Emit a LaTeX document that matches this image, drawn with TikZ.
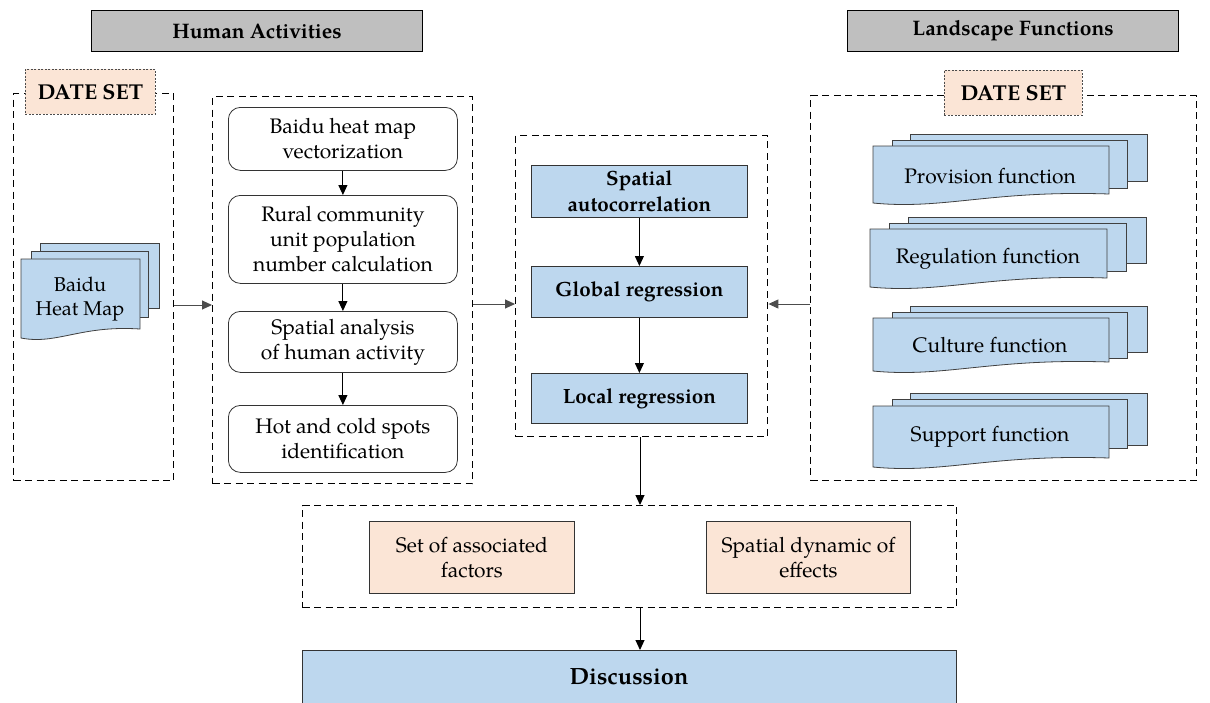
\documentclass[tikz,border=0pt]{standalone}
\usepackage{fontspec}
\setmainfont{texgyrepagella}[Extension=.otf, UprightFont=*-regular, BoldFont=*-bold, ItalicFont=*-italic, BoldItalicFont=*-bolditalic]
\usetikzlibrary{arrows.meta}
\definecolor{hdrgray}{HTML}{BFBFBF}
\definecolor{blu}{HTML}{BDD7EE}
\definecolor{peach}{HTML}{FBE5D6}
\newcommand\docfront[4]{% x y w h
  \filldraw[docsty] (#1,#2) -- ({#1+#3},#2) -- ({#1+#3},{#2+#4-9}) .. controls ({#1+0.5*#3},{#2+#4-13}) and ({#1+0.3*#3},{#2+#4+7}) .. (#1,{#2+#4}) -- cycle;}
\newcommand\docback[4]{% x y w h
  \filldraw[docsty] (#1,#2) rectangle ({#1+#3},{#2+#4});}
\tikzset{
  dbox/.style={draw, dash pattern=on 7pt off 4.5pt, line width=1.4pt, anchor=north west, inner sep=0pt},
  hdr/.style={draw, fill=hdrgray, line width=1.1pt, anchor=north west, inner sep=0pt, font=\fontsize{21}{24}\selectfont\bfseries},
  dset/.style={draw=black!70, fill=peach, dash pattern=on 2pt off 1.5pt, line width=0.7pt, anchor=north west, inner sep=0pt, font=\fontsize{21.5}{24}\selectfont\bfseries},
  rbx/.style={draw=black!80, rounded corners=12pt, line width=0.8pt, anchor=north west, inner sep=0pt, align=center, font=\fontsize{21}{25}\selectfont},
  bbx/.style={draw=black!80, fill=blu, line width=0.8pt, anchor=north west, inner sep=0pt, align=center, font=\fontsize{20.6}{26}\selectfont\bfseries},
  pbx/.style={draw=black!80, fill=peach, line width=0.8pt, anchor=north west, inner sep=0pt, align=center, font=\fontsize{21}{25}\selectfont},
  docsty/.style={draw=black!75, fill=blu, line width=0.8pt},
  doctxt/.style={align=center, inner sep=0pt, font=\fontsize{21}{24}\selectfont},
  arr/.style={-{Triangle[length=10pt,width=9pt]}, line width=1pt, draw=black},
  harr/.style={-{Triangle[length=10pt,width=9pt]}, line width=1pt, draw=black!70, fill=black}
}
\begin{document}
\begin{tikzpicture}[x=1pt, y=-1pt]
\clip (0,0) rectangle (1210,702);
\fill[white] (0,0) rectangle (1210,702);

% headers
\node[hdr, minimum width=331pt, minimum height=41pt] (hdrA) at (91,10) {Human Activities};
\node[hdr, minimum width=331pt, minimum height=41pt] (hdrB) at (847,10) {Landscape Functions};

% dashed frames
\node[dbox, minimum width=160pt, minimum height=387pt] (lbox) at (13,93) {};
\node[dbox, minimum width=260pt, minimum height=387pt] (cbox) at (212,96) {};
\node[dbox, minimum width=252pt, minimum height=301pt] (mbox) at (515,135) {};
\node[dbox, minimum width=386pt, minimum height=385pt] (rbox) at (810,95) {};
\node[dbox, minimum width=654pt, minimum height=102pt] (fbox) at (302,505) {};

% date set labels
\node[dset, minimum width=130pt, minimum height=45pt] (dsA) at (25,69) {DATE SET};
\node[dset, minimum width=138pt, minimum height=45pt] (dsB) at (944,70) {DATE SET};

% Baidu heat map stack
\docback{40}{243}{119}{65}
\docback{31}{251}{117}{66}
\docfront{21}{259}{119}{79}
\node[doctxt, font=\fontsize{20}{24}\selectfont] (baidu) at (80,299) {Baidu\\Heat Map};

% landscape function stacks
\docback{910}{134}{237}{47}
\docback{892}{140}{235}{48}
\docfront{873}{146}{236}{57}
\node[doctxt] (prov) at (990,176) {Provision function};

\docback{908}{217}{238}{46}
\docback{889}{223}{237}{48}
\docfront{870}{229}{237}{58}
\node[doctxt] (regu) at (988,259) {Regulation function};

\docback{910}{306}{237}{46}
\docback{892}{312}{235}{46}
\docfront{873}{318}{236}{53}
\node[doctxt] (cult) at (990,345) {Culture function};

\docback{910}{393}{237}{52}
\docback{892}{399}{235}{49}
\docfront{873}{406}{236}{61}
\node[doctxt] (supp) at (990,437) {Support function};

% human activity steps
\node[rbx, minimum width=229pt, minimum height=63pt] (b1) at (228,107) {Baidu heat map\\vectorization};
\node[rbx, minimum width=229pt, minimum height=88pt] (b2) at (228,195) {Rural community\\unit population\\number calculation};
\node[rbx, minimum width=229pt, minimum height=61pt] (b3) at (228,311) {Spatial analysis\\of human activity};
\node[rbx, minimum width=229pt, minimum height=67pt] (b4) at (228,405) {Hot and cold spots\\identification};

% regression steps
\node[bbx, minimum width=216pt, minimum height=52pt] (s1) at (531,165) {Spatial\\autocorrelation};
\node[bbx, minimum width=216pt, minimum height=51pt] (s2) at (531,266) {Global regression};
\node[bbx, minimum width=216pt, minimum height=50pt] (s3) at (531,373) {Local regression};

% results
\node[pbx, minimum width=205pt, minimum height=72pt] (p1) at (369,521) {Set of associated\\factors};
\node[pbx, minimum width=204pt, minimum height=72pt] (p2) at (706,521) {Spatial dynamic of\\effects};

% discussion
\node[bbx, minimum width=654pt, minimum height=56pt] (disc) at (302,650) {};
\node[inner sep=0pt, font=\fontsize{23.5}{26}\selectfont\bfseries] (disctxt) at (629,677) {Discussion};

% connectors
\draw[arr] (b1) -- (b2);
\draw[arr] (b2) -- (b3);
\draw[arr] (b3) -- (b4);
\draw[arr] (s1) -- (s2);
\draw[arr] (s2) -- (s3);
\draw[harr] (lbox.east |- 0,305) -- (cbox.west |- 0,305);
\draw[harr] (cbox.east |- 0,304) -- (mbox.west |- 0,304);
\draw[harr] (rbox.west |- 0,304) -- (mbox.east |- 0,304);
\draw[arr] (mbox.south -| 640,0) -- (fbox.north -| 640,0);
\draw[arr] (fbox.south -| 640,0) -- (disc.north -| 640,0);
\end{tikzpicture}
\end{document}
